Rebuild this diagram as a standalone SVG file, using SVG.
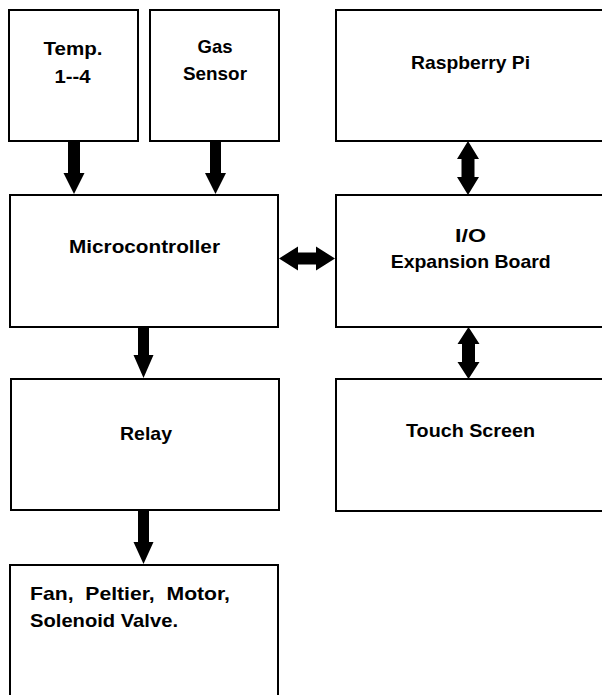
<svg xmlns="http://www.w3.org/2000/svg" width="602" height="695" viewBox="0 0 602 695">
<style>
.box{fill:#fff;stroke:#000;stroke-width:2}
.t{font-family:"Liberation Sans",Arial,sans-serif;font-weight:bold;font-size:19px;fill:#000}
.c{text-anchor:middle}
.arr{fill:#000}
</style>
<rect width="602" height="695" fill="#fff"/>
<g id="temp"><rect class="box" x="9" y="10" width="129" height="131"/>
<text class="t c" x="73" y="55" textLength="59" lengthAdjust="spacingAndGlyphs">Temp.</text>
<text class="t c" x="72.5" y="83" textLength="36" lengthAdjust="spacingAndGlyphs">1--4</text></g>
<g id="gas"><rect class="box" x="150" y="10" width="129" height="131"/>
<text class="t c" x="215" y="53" textLength="35" lengthAdjust="spacingAndGlyphs">Gas</text>
<text class="t c" x="215" y="80" textLength="64" lengthAdjust="spacingAndGlyphs">Sensor</text></g>
<g id="rpi"><rect class="box" x="336" y="10" width="280" height="131"/>
<text class="t c" x="470.5" y="69" textLength="119" lengthAdjust="spacingAndGlyphs">Raspberry Pi</text></g>
<g id="micro"><rect class="box" x="10" y="195" width="268" height="132"/>
<text class="t c" x="144.5" y="252.5" textLength="151" lengthAdjust="spacingAndGlyphs">Microcontroller</text></g>
<g id="io"><rect class="box" x="336" y="195" width="280" height="132"/>
<text class="t c" x="470.5" y="241.5" textLength="31" lengthAdjust="spacingAndGlyphs">I/O</text>
<text class="t c" x="470.7" y="268" textLength="160" lengthAdjust="spacingAndGlyphs">Expansion Board</text></g>
<g id="relay"><rect class="box" x="11" y="379" width="268" height="131"/>
<text class="t c" x="146" y="440" textLength="52" lengthAdjust="spacingAndGlyphs">Relay</text></g>
<g id="touch"><rect class="box" x="336" y="379" width="280" height="132"/>
<text class="t c" x="470.5" y="437" textLength="129" lengthAdjust="spacingAndGlyphs">Touch Screen</text></g>
<g id="fan"><rect class="box" x="10" y="565" width="268" height="140"/>
<text class="t" x="30" y="600" textLength="200" lengthAdjust="spacingAndGlyphs" xml:space="preserve">Fan,  Peltier,  Motor,</text>
<text class="t" x="30" y="627" textLength="148" lengthAdjust="spacingAndGlyphs">Solenoid Valve.</text></g>
<g id="connectors">
<polygon class="arr" points="68,142 80,142 80,173 84.5,173 74,194 63.5,173 68,173"/>
<polygon class="arr" points="210,142 221,142 221,173 226,173 215.5,194 205,173 210,173"/>
<polygon class="arr" points="138,328 149,328 149,355 153.5,355 143.5,378 133.5,355 138,355"/>
<polygon class="arr" points="138,511 149,511 149,542 153.5,542 143.5,564 133.5,542 138,542"/>
<polygon class="arr" points="279,258.5 298,246.5 298,252.5 316,252.5 316,246.5 335,258.5 316,270.5 316,264.5 298,264.5 298,270.5"/>
<polygon class="arr" points="468,141 479,159 474.5,159 474.5,177 479,177 468,195 457,177 461.5,177 461.5,159 457,159"/>
<polygon class="arr" points="468.5,327 479.5,344 475,344 475,362 479.5,362 468.5,379 457.5,362 462,362 462,344 457.5,344"/>
</g>
</svg>
